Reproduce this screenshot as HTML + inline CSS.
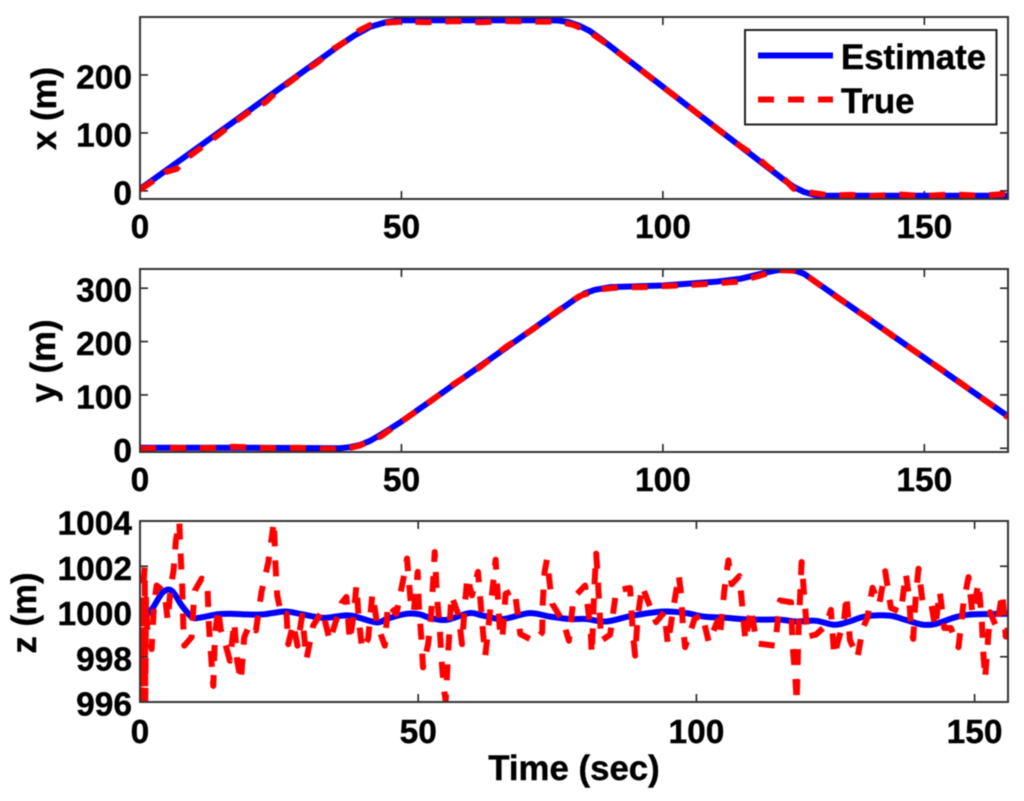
<!DOCTYPE html>
<html>
<head>
<meta charset="utf-8">
<title>Estimate vs True trajectory</title>
<style>
html,body{margin:0;padding:0;background:#fff;}
svg{display:block;filter:blur(0.45px);}
text{font-family:"Liberation Sans",Arial,sans-serif;font-weight:bold;font-size:33.5px;fill:#000;stroke:#000;stroke-width:0.4px;}
text.big{font-size:34.8px;}
</style>
</head>
<body>
<svg id="chart" xmlns="http://www.w3.org/2000/svg" width="1024" height="801" viewBox="0 0 1024 801">
<defs id="defs"></defs>
<g id="plots"></g>
<g>
<rect x="745" y="30" width="251.5" height="94.5" fill="#fff" stroke="#222" stroke-width="2"></rect>
<line x1="758" y1="55.5" x2="833" y2="55.5" stroke="#0000ff" stroke-width="6"></line>
<text class="big" x="841" y="69">Estimate</text>
<line x1="758" y1="99.5" x2="833" y2="99.5" stroke="#ff0000" stroke-width="6" stroke-dasharray="16,14"></line>
<text class="big" x="841" y="113">True</text>
</g>
<text class="big" x="574" y="780" text-anchor="middle">Time (sec)</text>
</svg>
<script>
// Panel x(t)
const xEstT = [0,10,20,30,38,41,44,47,50,78,80,82,84,86,88,107,119,123,125,127,129,131,166];
const xEstV = [3,68,133,198,250,268,283,291,294.5,294.5,294,291,285,276,263,131,48,20,7,-2,-7,-8.5,-8.5];
const xTrueT = [0,2,5,7,9,11,15,18,22,24,26,30,34,37,40,42,44,47,50,55,60,65,70,75,80,83,86,90,95,100,104,107,111,115,118,120,123,125,127,129,132,136,140,145,150,155,160,163,166];
const xTrueV = [2,14,33,38,57,70,97,118,144,153,170,197,222,245,262,277,286,290,292,291,293,291,293,292,292,286,274,249,214,179,152,131,103,76,58,42,22,4,-1,-4,-8,-7,-9,-6,-9,-6,-8,-7,-5];

// Panel y(t)
const yEstT = [0,20,38,40,42,44,46,50,83,85,87,90,100,110,115,120,122,125,127,166];
const yEstV = [1,1,0,2,6,14,25,50,278,290,297,302,305,312,318,330,334,334,327,60];
const yTrueT = [0,5,10,15,18,22,26,30,35,39,42,46,50,55,60,65,70,75,80,84,88,92,96,100,105,110,114,118,122,125,128,132,136,140,144,148,152,156,160,163,166];
const yTrueV = [-1,1,0,1,3,1,0,1,-1,-2,5,22,50,84,120,152,190,222,258,285,298,302,302,304,306,309,312,322,334,333,320,292,265,239,210,183,156,129,101,80,58];

// Panel z(t)
const zEstT = [0,1.2,2.4,4.1,5.7,7.5,9.3,10.8,13.8,16.2,19.2,22.1,26,28.7,32.9,36.5,38.3,42.5,44.3,47.9,50.3,52.07,55.07,59.2,61.6,65.2,70,73.6,77.2,80.2,83.8,88.6,94.25,98.2,101.2,105.3,110.1,114.9,117.9,121.5,124.8,127.5,130.5,134.7,137.6,140.6,143,146.6,149.6,156];
const zEstV = [1000,999.85,1000.2,1000.85,1000.92,1000.27,999.75,999.73,999.87,999.9,999.87,999.87,1000,999.9,999.72,999.82,999.8,999.52,999.67,999.9,999.87,999.72,999.63,999.93,999.82,999.67,999.93,999.78,999.67,999.67,999.56,999.82,1000,999.93,999.78,999.72,999.64,999.64,999.56,999.59,999.41,999.56,999.79,999.82,999.63,999.42,999.45,999.75,999.87,999.9];
const zTrueT = [0,0.12,0.24,0.84,0.96,1.08,1.32,2.09,2.51,2.99,4.43,4.97,5.51,6.04,6.46,7.06,7.3,7.6,7.78,7.96,9.28,9.57,9.87,11.07,12.09,12.39,12.75,13.17,13.46,14.06,14.48,15.26,16.16,16.94,17.47,18.13,18.73,19.75,20.83,21.84,23.04,24.06,24.36,24.66,25.43,26.33,26.63,27.53,28.31,29.14,29.92,31.12,32.79,34.11,36.21,37.1,37.7,38.42,38.9,39.32,39.92,40.99,41.77,42.61,43.99,44.58,46.08,47.4,47.99,48.65,49.19,49.91,50.15,50.57,50.87,51.77,52.24,52.66,52.96,53.38,53.86,54.16,54.58,54.94,55.36,55.66,55.96,57.27,57.87,58.35,58.83,59.67,60.74,61.22,61.64,62.06,62.84,63.43,63.91,64.33,64.63,65.11,65.71,67.33,68.34,70.92,72.29,72.4,72.71,73.13,74.09,76.12,77.08,77.92,80,80.97,81.2,81.69,81.99,82.29,82.59,82.89,84.5,85.58,88.09,88.57,88.99,89.47,90.25,91.86,92.76,94.25,94.85,95.93,96.83,97.25,97.55,97.97,99.65,101.02,102.22,103.83,104.25,105.03,105.75,106.33,107.72,108.32,108.8,109.81,110.83,114.13,115.03,117,117.3,117.78,118.02,118.37,118.61,118.91,119.51,119.98,121.48,123.28,124.17,124.77,125.78,126.57,126.98,127.58,128.96,129.86,130.75,131.65,132.85,133.93,134.95,136.75,137.64,138.24,138.54,138.96,139.44,139.92,140.63,142.13,142.91,143.75,144.53,145.72,147.11,148.01,148.9,149.62,150.69,151.29,151.53,151.89,152.79,153.92,155,155.6,156];
const zTrueV = [1000.04,996,999.75,1001.97,996,1000.56,999.16,998.34,1000.27,1001.15,1000.86,999.6,1001.08,1001.82,1003.15,1003.97,1002.56,1001,999.38,998.49,998.86,1000.04,1000.93,1001.45,1001.35,999.38,998.12,996.71,998.93,1000.12,999.23,998.64,997.82,999.53,997.82,996.94,998.86,999.45,999.16,1000.86,1002.15,1003.97,1002.04,1000.71,999.82,999.9,998.56,999.45,998.49,999.82,997.9,999.38,1000.04,998.71,1000.37,1000.64,998.71,999.9,1001.15,999.67,998.34,998.79,1000.78,999.45,998.49,1000.34,999.9,1001.52,1002.34,1000.41,999.97,1001.75,1000.19,998.79,997.53,998.56,999.57,1001.23,1002.63,1000.64,999.3,997.97,996.64,996.05,998.05,999.38,1000.71,999.82,998.56,1000.19,1001.52,1000.71,1001.75,1000.41,999.08,998.05,999.82,1001.15,1002.29,1000.64,999.3,998.79,1000.78,1000.96,999,998.68,999.08,1000.41,1001.75,1002.29,1000.34,999.53,998.71,1000.61,1001.15,999.23,998.12,1001.23,1002.56,1001.38,1000.07,998.71,998.98,1000.93,1001.04,999.08,998.05,999.82,1001.11,1000.1,999.53,999.97,998.56,1000.27,1001.6,1000.78,999.45,998.42,999.67,999.87,998.64,999.6,998.98,1000.96,1002.26,1001.2,1001.57,1000.04,998.71,1000.12,998.59,998.49,1000.49,1000.41,998.42,997.11,996,999.23,1000.56,1002.19,1000.22,998.89,998.98,999.38,1000.07,998.05,998.98,999.67,1000.71,998.74,997.97,999.23,999.75,1001.05,1000.31,1001.78,1000.16,999.97,1001.67,1000.61,999.3,998.79,1000.78,1001.89,1000.46,1000.46,999.3,1000.89,999.27,999.27,998.42,1000.37,1001.52,999.9,1001.26,999.63,998.3,997.05,999.97,999.3,1000.81,998.89,999.3];

// Tick labels
const xTicks12 = [0,50,100,150];
const xTicks3 = [0,50,100,150];
const yTicks1 = [0,100,200];
const yTicks2 = [0,100,200,300];
const yTicks3 = [996,998,1000,1002,1004];

const NS = 'http://www.w3.org/2000/svg';
const plots = document.getElementById('plots');
const defs = document.getElementById('defs');

function mk(tag, attrs, parent) {
  const el = document.createElementNS(NS, tag);
  for (const k in attrs) el.setAttribute(k, attrs[k]);
  parent.appendChild(el);
  return el;
}

function smoothPath(p) {
  let d = 'M' + p[0][0].toFixed(1) + ' ' + p[0][1].toFixed(1);
  for (let i = 0; i < p.length - 1; i++) {
    const a = p[Math.max(i - 1, 0)], b = p[i], c = p[i + 1], e = p[Math.min(i + 2, p.length - 1)];
    const c1x = b[0] + (c[0] - a[0]) / 6, c1y = b[1] + (c[1] - a[1]) / 6;
    const c2x = c[0] - (e[0] - b[0]) / 6, c2y = c[1] - (e[1] - b[1]) / 6;
    d += 'C' + c1x.toFixed(1) + ' ' + c1y.toFixed(1) + ' ' + c2x.toFixed(1) + ' ' + c2y.toFixed(1) + ' ' + c[0].toFixed(1) + ' ' + c[1].toFixed(1);
  }
  return d;
}

function drawPanel(cfg) {
  const g = mk('g', {}, plots);
  
  
  const L = 140, R = 1008, T = cfg.top, B = cfg.bottom;
  const sx = t => L + (t - cfg.xMin) / (cfg.xMax - cfg.xMin) * (R - L);
  const sy = v => B - (v - cfg.yMin) / (cfg.yMax - cfg.yMin) * (B - T);

  const clip = mk('clipPath', {id: cfg.name + '-clip'}, defs);
  mk('rect', {x: L, y: T, width: R - L, height: B - T}, clip);

  const tickStroke = {stroke: '#222', 'stroke-width': 1.6};
  cfg.xTicks.forEach(t => {
    const x = sx(t);
    if (t !== cfg.xMin) {
      const a = mk('line', Object.assign({x1: x, x2: x, y1: T, y2: T + 8}, tickStroke), g);
      
      
      const b = mk('line', Object.assign({x1: x, x2: x, y1: B, y2: B - 8}, tickStroke), g);
      
      
    }
    const lab = mk('text', {x: x, y: cfg.xLabelY, 'text-anchor': 'middle'}, g);
    lab.textContent = t;
    
    
  });
  cfg.yTicks.forEach(v => {
    const y = sy(v);
    const a = mk('line', Object.assign({x1: L, x2: L + 8, y1: y, y2: y}, tickStroke), g);
    
    
    const b = mk('line', Object.assign({x1: R, x2: R - 8, y1: y, y2: y}, tickStroke), g);
    
    
    const lab = mk('text', {x: 132, y: y + 13.5, 'text-anchor': 'end'}, g);
    lab.textContent = v;
    
    
  });

  const pairs = (ts, vs) => ts.map((t, i) => [sx(t), sy(vs[i])]);
  const clipUrl = 'url(#' + cfg.name + '-clip)';
  const estPts = pairs(cfg.estT, cfg.estV);
  const estD = cfg.smooth ? smoothPath(estPts) : 'M' + estPts.map(p => p[0].toFixed(1) + ' ' + p[1].toFixed(1)).join('L');
  const est = mk('path', {d: estD, fill: 'none', stroke: '#0000ff', 'stroke-width': 6, 'stroke-linejoin': 'round', 'clip-path': clipUrl}, g);
  
  
  const truePts = pairs(cfg.trueT, cfg.trueV).map(p => p[0].toFixed(1) + ',' + p[1].toFixed(1)).join(' ');
  const tru = mk('polyline', {points: truePts, fill: 'none', stroke: '#ff0000', 'stroke-width': 6, 'stroke-dasharray': '16,14', 'stroke-linejoin': 'round', 'clip-path': clipUrl}, g);
  
  

  const frame = mk('rect', {x: L, y: T, width: R - L, height: B - T, fill: 'none', stroke: '#333', 'stroke-width': 2}, g);
  
  

  const yt = mk('text', {class: 'big', transform: 'translate(' + cfg.titleX + ',' + cfg.titleY + ') rotate(-90)', 'text-anchor': 'middle'}, g);
  yt.textContent = cfg.title;
  
  
}

drawPanel({name: 'x-panel', top: 17, bottom: 199, xMin: 0, xMax: 166, yMin: -14, yMax: 300,
  xTicks: xTicks12, yTicks: yTicks1, xLabelY: 238, title: 'x (m)', titleX: 56, titleY: 108.5,
  estT: xEstT, estV: xEstV, trueT: xTrueT, trueV: xTrueV, smooth: false});
drawPanel({name: 'y-panel', top: 269, bottom: 452, xMin: 0, xMax: 166, yMin: -7, yMax: 336,
  xTicks: xTicks12, yTicks: yTicks2, xLabelY: 491, title: 'y (m)', titleX: 55, titleY: 361,
  estT: yEstT, estV: yEstV, trueT: yTrueT, trueV: yTrueV, smooth: false});
drawPanel({name: 'z-panel', top: 521, bottom: 702, xMin: 0, xMax: 156, yMin: 996, yMax: 1004,
  xTicks: xTicks3, yTicks: yTicks3, xLabelY: 743, title: 'z (m)', titleX: 36, titleY: 613,
  estT: zEstT, estV: zEstV, trueT: zTrueT, trueV: zTrueV, smooth: true});
</script>
</body>
</html>
